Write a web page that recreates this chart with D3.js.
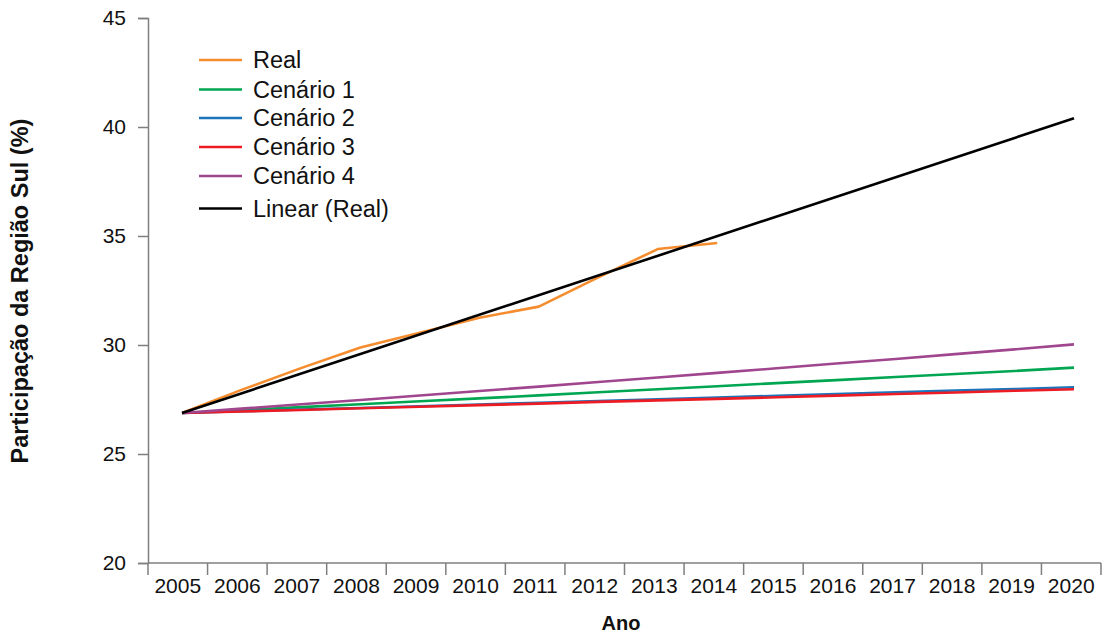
<!DOCTYPE html>
<html>
<head>
<meta charset="utf-8">
<script src="https://cdn.jsdelivr.net/npm/d3@7"></script>
<style>
  html, body { margin: 0; padding: 0; background: #fff; }
  svg { display: block; font-family: "Liberation Sans", Arial, sans-serif; }
</style>
</head>
<body>
<svg id="chart" width="1110" height="634"></svg>
<script>
const years = ["2005","2006","2007","2008","2009","2010","2011","2012","2013","2014","2015","2016","2017","2018","2019","2020"];
const yTicks = [20, 25, 30, 35, 40, 45];

const realYears = ["2005","2006","2007","2008","2009","2010","2011","2012","2013","2014"];
const realValues = [26.88, 27.94, 28.94, 29.89, 30.56, 31.25, 31.76, 33.1, 34.4, 34.68];

const cenario1 = [26.88, 27.01, 27.15, 27.28, 27.42, 27.55, 27.69, 27.83, 27.97, 28.11, 28.25, 28.39, 28.53, 28.67, 28.81, 28.96];
const cenario2 = [26.88, 26.96, 27.04, 27.11, 27.19, 27.27, 27.35, 27.43, 27.51, 27.59, 27.67, 27.75, 27.83, 27.91, 27.98, 28.06];
const cenario3 = [26.88, 26.95, 27.02, 27.10, 27.17, 27.24, 27.31, 27.39, 27.46, 27.53, 27.60, 27.68, 27.75, 27.82, 27.90, 27.97];
const cenario4 = [26.88, 27.08, 27.28, 27.48, 27.68, 27.89, 28.09, 28.30, 28.51, 28.72, 28.93, 29.15, 29.36, 29.58, 29.80, 30.03];

const trendYears = ["2005", "2020"];
const trendValues = [26.88, 40.4];

const seriesNames = ["Real", "Cenário 1", "Cenário 2", "Cenário 3", "Cenário 4", "Linear (Real)"];
const seriesColors = ["#F58D2E", "#00A651", "#1C75BC", "#ED1C24", "#A0468E", "#000000"];

const svg = d3.select("#chart");

const xBand = d3.scaleBand().domain(years).range([148, 1101]);
const xPoint = d3.scalePoint().domain(years).range([182, 1074]);
const y = d3.scaleLinear().domain([20, 45]).range([563, 18]);

const axisColor = "#7f7f7f";

// Y axis
const yAxis = svg.append("g")
  .attr("transform", "translate(148,0)")
  .call(d3.axisLeft(y).tickValues(yTicks).tickSize(10).tickPadding(12));
yAxis.select(".domain").attr("stroke", axisColor).attr("stroke-width", 1.5);
yAxis.selectAll(".tick line").attr("stroke", axisColor).attr("stroke-width", 1.5);
yAxis.selectAll(".tick text").attr("font-size", 21).attr("fill", "#111")
  .attr("font-family", "Liberation Sans, Arial, sans-serif");

// X axis
const xAxisG = svg.append("g").attr("transform", "translate(0,563)");
xAxisG.append("line").attr("x1", 148).attr("x2", 1101).attr("y1", 0).attr("y2", 0)
  .attr("stroke", axisColor).attr("stroke-width", 1.5);
const boundaries = years.map(d => xBand(d)).concat([xBand(years[years.length-1]) + xBand.bandwidth()]);
xAxisG.selectAll("line.tk").data(boundaries).enter().append("line").attr("class","tk")
  .attr("x1", d => d).attr("x2", d => d).attr("y1", 0).attr("y2", 12)
  .attr("stroke", axisColor).attr("stroke-width", 1.5);
xAxisG.selectAll("text.lbl").data(years).enter().append("text").attr("class","lbl")
  .attr("x", d => xBand(d) + xBand.bandwidth()/2)
  .attr("y", 30)
  .attr("text-anchor", "middle")
  .attr("font-size", 21).attr("fill", "#111")
  .text(d => d);

// Axis titles
svg.append("text")
  .attr("x", 621).attr("y", 630)
  .attr("text-anchor", "middle")
  .attr("font-size", 20).attr("font-weight", "bold").attr("fill", "#111")
  .text("Ano");
svg.append("text")
  .attr("transform", "translate(28,291) rotate(-90)")
  .attr("text-anchor", "middle")
  .attr("font-size", 23.5).attr("font-weight", "bold").attr("fill", "#111")
  .text("Participação da Região Sul (%)");

// Lines
const line = d3.line().x(d => xPoint(d[0])).y(d => y(d[1]));
const seriesData = [
  d3.zip(realYears, realValues),
  d3.zip(years, cenario1),
  d3.zip(years, cenario2),
  d3.zip(years, cenario3),
  d3.zip(years, cenario4),
  d3.zip(trendYears, trendValues)
];
seriesData.forEach((data, i) => {
  svg.append("path")
    .datum(data)
    .attr("fill", "none")
    .attr("stroke", seriesColors[i])
    .attr("stroke-width", 2.6)
    .attr("stroke-linejoin", "round")
    .attr("d", line);
});

// Legend
const legend = svg.append("g");
const legendY = [60, 89.5, 118, 147, 176, 208.5];
seriesNames.forEach((name, i) => {
  legend.append("line")
    .attr("x1", 199).attr("x2", 242)
    .attr("y1", legendY[i]).attr("y2", legendY[i])
    .attr("stroke", seriesColors[i]).attr("stroke-width", 2.6);
  legend.append("text")
    .attr("x", 253).attr("y", legendY[i])
    .attr("dy", "0.36em")
    .attr("font-size", 23.5).attr("fill", "#111")
    .text(name);
});
</script>
</body>
</html>
